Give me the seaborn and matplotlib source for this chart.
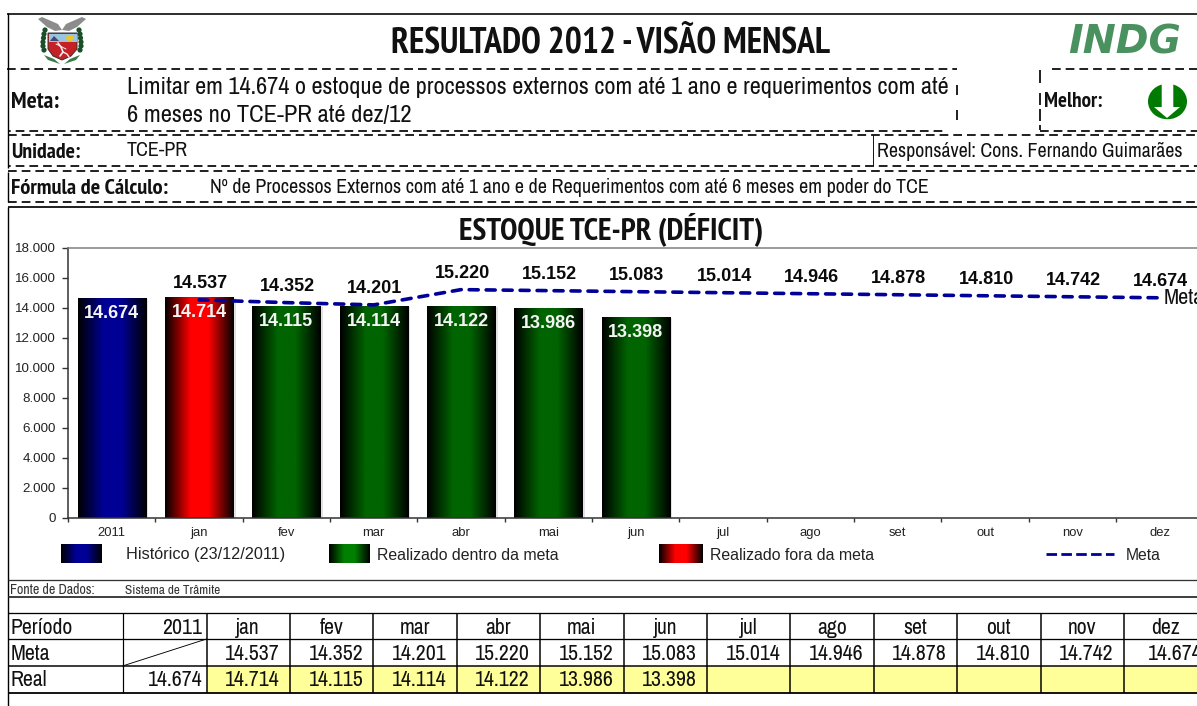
import numpy as np
import pandas as pd
import matplotlib
matplotlib.use("Agg")
import matplotlib.pyplot as plt
from matplotlib import font_manager as fm
from matplotlib.colors import LinearSegmentedColormap
from matplotlib.patches import Rectangle, Ellipse, Polygon, Circle
import seaborn as sns

categories = ["2011", "jan", "fev", "mar", "abr", "mai", "jun", "jul", "ago", "set", "out", "nov", "dez"]
meta = [None, 14537, 14352, 14201, 15220, 15152, 15083, 15014, 14946, 14878, 14810, 14742, 14674]
real = [14674, 14714, 14115, 14114, 14122, 13986, 13398, None, None, None, None, None, None]
kinds = ["hist", "fora", "dentro", "dentro", "dentro", "dentro", "dentro", None, None, None, None, None, None]

def br(v):
    return f"{v:,.0f}".replace(",", ".")

W, H = 1197, 706
sns.set_theme(style="white")
faces = fm.fontManager.ttflist
names = {f.name for f in faces}

def is_bold(f):
    w = f.weight
    return w in ("bold", "heavy", "extra bold", "semibold", "demibold", "demi") or (isinstance(w, (int, float)) and w >= 600)

NARROW = next(n for n in ("Liberation Sans Narrow", "Archivo Narrow", "Roboto Condensed", "PT Sans Narrow",
                          "Pragati Narrow", "Liberation Sans") if n in names)
NARROW_B = next(n for n in ("Liberation Sans Narrow", "PT Sans Narrow", "Pragati Narrow", "Fira Sans Condensed",
                            "IBM Plex Sans Condensed", "Roboto Condensed", "Archivo Narrow", "Liberation Sans")
                if any(f.name == n and is_bold(f) for f in faces))
ARIAL = "Liberation Sans"
plt.rcParams["font.family"] = [ARIAL, "DejaVu Sans"]

fig = plt.figure(figsize=(W / 100, H / 100), dpi=100, facecolor="white")
renderer = fig.canvas.get_renderer()

# ---------- chart ----------
ax_l, ax_r, ax_t, ax_b = 68.0, 68.0 + 13 * 87.35, 248.0, 517.5
ax = fig.add_axes([ax_l / W, 1 - ax_b / H, (ax_r - ax_l) / W, (ax_b - ax_t) / H])
df = pd.DataFrame({"cat": categories, "real": real, "meta": meta})
sns.barplot(data=df, x="cat", y="real", order=categories, color="#006400", width=0.78, ax=ax, zorder=2)
ax.set_xlabel("")
ax.set_ylabel("")

def grad(c):
    return LinearSegmentedColormap.from_list("g", [(0, "#000000"), (0.37, c), (0.63, c), (1, "#000000")])

bar_c = {"hist": "#000096", "fora": "#FF0000", "dentro": "#006400"}
strip = np.linspace(0, 1, 128).reshape(1, -1)
bars = [p for p in ax.patches if p.get_height() > 0]
for p, k, v in zip(bars, [k for k in kinds if k], [r for r in real if r]):
    x0, w, h = p.get_x(), p.get_width(), p.get_height()
    p.set_alpha(0)
    ax.add_patch(Rectangle((x0 + w, 0), 0.03, h * 0.995, fc="#E2E2E2", ec="none", zorder=1.5))
    ax.imshow(strip, cmap=grad(bar_c[k]), extent=(x0, x0 + w, 0, h), aspect="auto", zorder=2.2, interpolation="bilinear")
    ax.annotate(br(v), (x0 + w / 2, h), xytext=(0, -15.5 * 0.72), textcoords="offset points",
                ha="center", va="center", color="#F4F4F4", fontsize=13, fontweight="bold",
                family=ARIAL, zorder=5, annotation_clip=False)
ax.set_xlim(-0.5, 12.5)
ax.set_ylim(0, 18000)

sns.lineplot(data=df.dropna(subset=["meta"]), x="cat", y="meta", color="#000099", lw=2.6,
             ax=ax, zorder=4, errorbar=None, sort=False)
ln = ax.get_lines()[-1]
ln.set_dashes((2.5, 2.2))
ln.set_dash_capstyle("round")
ax.set_xlabel("")
ax.set_ylabel("")
for i, v in enumerate(meta):
    if v is not None:
        ax.annotate(br(v), (i, v), xytext=(1 * 0.72, 16 * 0.72), textcoords="offset points",
                    ha="center", va="center", color="#0A0A0A", fontsize=13, fontweight="bold",
                    family=ARIAL, zorder=5, annotation_clip=False)
ax.annotate("Meta", (12, meta[-1]), xytext=(3, -0.5), textcoords="offset points", ha="left", va="center",
            fontsize=16, color="#111111", family=NARROW, zorder=5, annotation_clip=True)

ax.set_yticks(np.arange(0, 18001, 2000))
ax.set_yticklabels([br(v) for v in np.arange(0, 18001, 2000)], fontsize=9.6, color="#222222")
ax.set_xticks(np.arange(13))
ax.set_xticklabels(categories, fontsize=9.4, color="#222222")
ax.xaxis.set_minor_locator(matplotlib.ticker.FixedLocator(np.arange(-0.5, 13, 1)))
ax.tick_params(axis="x", which="major", length=0, pad=7)
ax.tick_params(axis="x", which="minor", length=3, width=1, color="#333333", bottom=True)
ax.tick_params(axis="y", length=4.5, width=1, color="#333333", left=True, pad=4.5)
ax.spines["left"].set_color("#333333")
ax.spines["bottom"].set_color("#333333")
ax.spines["top"].set_color("#808080")
ax.spines["right"].set_visible(False)
for s in ("left", "bottom", "top"):
    ax.spines[s].set_linewidth(1.1)
    ax.spines[s].set_visible(True)

# ---------- page furniture, in pixel coordinates ----------
top = fig.add_axes([0, 0, 1, 1], zorder=5, facecolor="none")
top.set_xlim(0, W)
top.set_ylim(H, 0)
top.axis("off")

def txt(x0, x1, y, s, size=12, weight="normal", fam=None, color="#111111", style="normal"):
    if fam is None:
        fam = NARROW_B if weight == "bold" else NARROW
    t = top.text(x0, y, s, ha="left", va="center", fontsize=size, fontweight=weight,
                 family=fam, color=color, fontstyle=style)
    bb = t.get_window_extent(renderer)
    t.set_fontsize(size * (x1 - x0) / bb.width)
    return t

def rule(x0, y0, x1, y1, lw=1.0, color="black", dash=None, offset=0):
    l, = top.plot([x0, x1], [y0, y1], color=color, lw=lw * 0.72, solid_capstyle="butt", dash_capstyle="butt")
    if dash:
        l.set_linestyle((offset / lw, (dash[0] / lw, dash[1] / lw)))
    return l

D = (8.7, 5.0)
rule(7, 13.5, W, 13.5, 1.6)
rule(7.5, 13, 7.5, 168, 1.4)
rule(7.5, 172, 7.5, 202, 1.4)
rule(7.5, 207, 7.5, H, 1.4)
rule(7, 69, 957, 69, 1.7, dash=D)
rule(1052, 69, W, 69, 1.7, dash=D)
rule(8, 130.5, 947, 130.5, 1.7, dash=D, offset=6)
rule(1040, 130.5, W, 130.5, 1.7, dash=D)
rule(8, 135, W, 135, 1.7, dash=D)
rule(8, 166, W, 166, 1.7, dash=D, offset=6)
rule(8, 171, W, 171, 1.7, dash=D)
rule(8, 202, W, 202, 1.7, dash=D)
rule(8, 206.5, W, 206.5, 1.7)
rule(957, 85, 957, 95, 1.7)
rule(957, 110, 957, 120, 1.7)
rule(1040, 70, 1040, 83, 1.7)
rule(1040, 93, 1040, 130, 1.7, dash=(12, 4))
rule(873, 135, 873, 166, 0.9)

txt(391, 830, 43, "RESULTADO 2012 - VISÃO MENSAL", 22, "bold")
txt(127, 950, 88, "Limitar em 14.674 o estoque de processos externos com até 1 ano e requerimentos com até", 16)
txt(127, 412, 116, "6 meses no TCE-PR até dez/12", 16)
txt(11, 59, 102.5, "Meta:", 12, "bold")
txt(1044, 1102, 101.5, "Melhor:", 12, "bold")
txt(11, 80, 152, "Unidade:", 12, "bold")
txt(127, 188, 150.5, "TCE-PR", 12)
txt(877, 1183, 151.5, "Responsável: Cons. Fernando Guimarães", 13)
txt(11, 168, 188, "Fórmula de Cálculo:", 12, "bold")
txt(210, 924, 187.5, "Nº de Processos Externos com até 1 ano e de Requerimentos com até 6 meses em poder do TCE", 12)
txt(459, 763, 229, "ESTOQUE TCE-PR (DÉFICIT)", 17, "bold")

# INDG mark
txt(1068, 1181, 42, "INDG", 24, "bold", "DejaVu Sans", "#4A9160", "italic")

# "better" arrow
top.add_patch(Ellipse((1167.5, 101.5), 39, 35.5, fc="#007A00", ec="none"))
top.add_patch(Polygon([(1161.7, 83), (1173.3, 83), (1173.3, 107), (1180, 107), (1167, 118), (1154, 107), (1161.7, 107)],
                      fc="white", ec="none"))

# crest
CX = 62
for sx in (-1, 1):
    top.add_patch(Polygon([(CX, 30), (CX + sx * 4, 24), (CX + sx * 20, 17), (CX + sx * 24, 19), (CX + sx * 15, 27), (CX + sx * 7, 31)],
                          fc="#8C8C8C", ec="none"))
    for dy, dx in zip(range(30, 54, 4), (17, 18, 18.5, 19, 19, 18)):
        top.add_patch(Circle((CX + sx * dx, dy), 2.6, fc="#1B4F2A", ec="none"))
    top.add_patch(Polygon([(CX + sx * 2, 64), (CX + sx * 14, 60), (CX + sx * 18, 55), (CX + sx * 8, 59)], fc="#3B7A4A", ec="none"))
top.add_patch(Polygon([(48, 33), (77, 33), (77, 49), (71, 56), (62, 60), (53, 56), (48, 49)], fc="#C42026", ec="#333333", lw=0.7))
top.add_patch(Rectangle((48.5, 33.5), 28, 8, fc="#9CC3E0", ec="none"))
top.add_patch(Ellipse((70, 38), 8, 6, fc="#E8C830", ec="none"))
top.add_patch(Polygon([(50, 41), (54, 36), (59, 41)], fc="#3C4C78", ec="none"))
top.plot([58, 61, 63, 60], [43, 47, 52, 56], color="#F0F0F0", lw=1.2)
top.plot([63, 67, 69], [52, 54, 57], color="#F0F0F0", lw=1.0)
top.plot([56, 66], [44, 49], color="#F0F0F0", lw=0.7)

# legend
def gradrect(x0, x1, y0, y1, c):
    top.imshow(strip, cmap=grad(c), extent=(x0, x1, y1, y0), aspect="auto", interpolation="bilinear")

gradrect(61, 102, 544, 563, "#000096")
txt(126, 285, 555, "Histórico (23/12/2011)", 11, fam=ARIAL, color="#222222")
gradrect(329, 370, 544, 563, "#008000")
txt(377, 558, 555, "Realizado dentro da meta", 11, fam=ARIAL, color="#222222")
gradrect(659, 703, 544, 563, "#FF0000")
txt(710, 874, 555, "Realizado fora da meta", 11, fam=ARIAL, color="#222222")
ll, = top.plot([1046, 1114], [554, 554], color="#000099", lw=2.0, dash_capstyle="butt")
ll.set_linestyle((0, (3.8, 1.55)))
txt(1126, 1161, 555, "Meta", 11, fam=ARIAL, color="#222222")
top.set_xlim(0, W)
top.set_ylim(H, 0)

# source
rule(8, 580, W, 580, 1.3, color="#333333")
rule(8, 597, W, 597, 1.7, color="#222222")
txt(10, 95, 590, "Fonte de Dados:", 8, color="#333333")
txt(125, 221, 590, "Sistema de Trâmite", 8, color="#333333")

# table
col_x = [8, 122.5] + [206.5 + 83.4 * i for i in range(13)]
row_y = [612.5, 639, 666, 692.5]
top.add_patch(Rectangle((206.5, 666), W - 206.5, 26.5, fc="#FFFF99", ec="none"))
for y, lw in zip(row_y, (1.3, 1.3, 1.5, 1.8)):
    rule(8, y, W, y, lw)
for i, x in enumerate(col_x[1:]):
    rule(x, 612.5, x, 692.5, 1.5 if i else 1.2)
rule(122.5, 666, 206.5, 639, 0.9)

# size that gives a table number about its 54 px width in the narrow face
probe = top.text(0, 0, "14.537", fontsize=15, family=NARROW)
TS = 15 * 55 / probe.get_window_extent(renderer).width
probe.remove()
row_mid = [627.5, 654, 680.5]
for y, s in zip(row_mid, ("Período", "Meta", "Real")):
    top.text(11, y, s, ha="left", va="center", fontsize=TS, family=NARROW, color="#111111")
top.text(202.5, row_mid[0], categories[0], ha="right", va="center", fontsize=TS, family=NARROW, color="#111111")
top.text(202.5, row_mid[2], br(real[0]), ha="right", va="center", fontsize=TS, family=NARROW, color="#111111")
for i in range(1, 13):
    l, r = col_x[i + 1], col_x[i + 2]
    top.text((l + r) / 2, row_mid[0], categories[i], ha="center", va="center", fontsize=TS, family=NARROW, color="#111111")
    rt = r - (5 if i == 12 else 10)
    top.text(rt, row_mid[1], br(meta[i]), ha="right", va="center", fontsize=TS, family=NARROW, color="#111111")
    if real[i] is not None:
        top.text(rt, row_mid[2], br(real[i]), ha="right", va="center", fontsize=TS, family=NARROW, color="#111111")

fig.savefig("out.png", dpi=100, facecolor="white")
